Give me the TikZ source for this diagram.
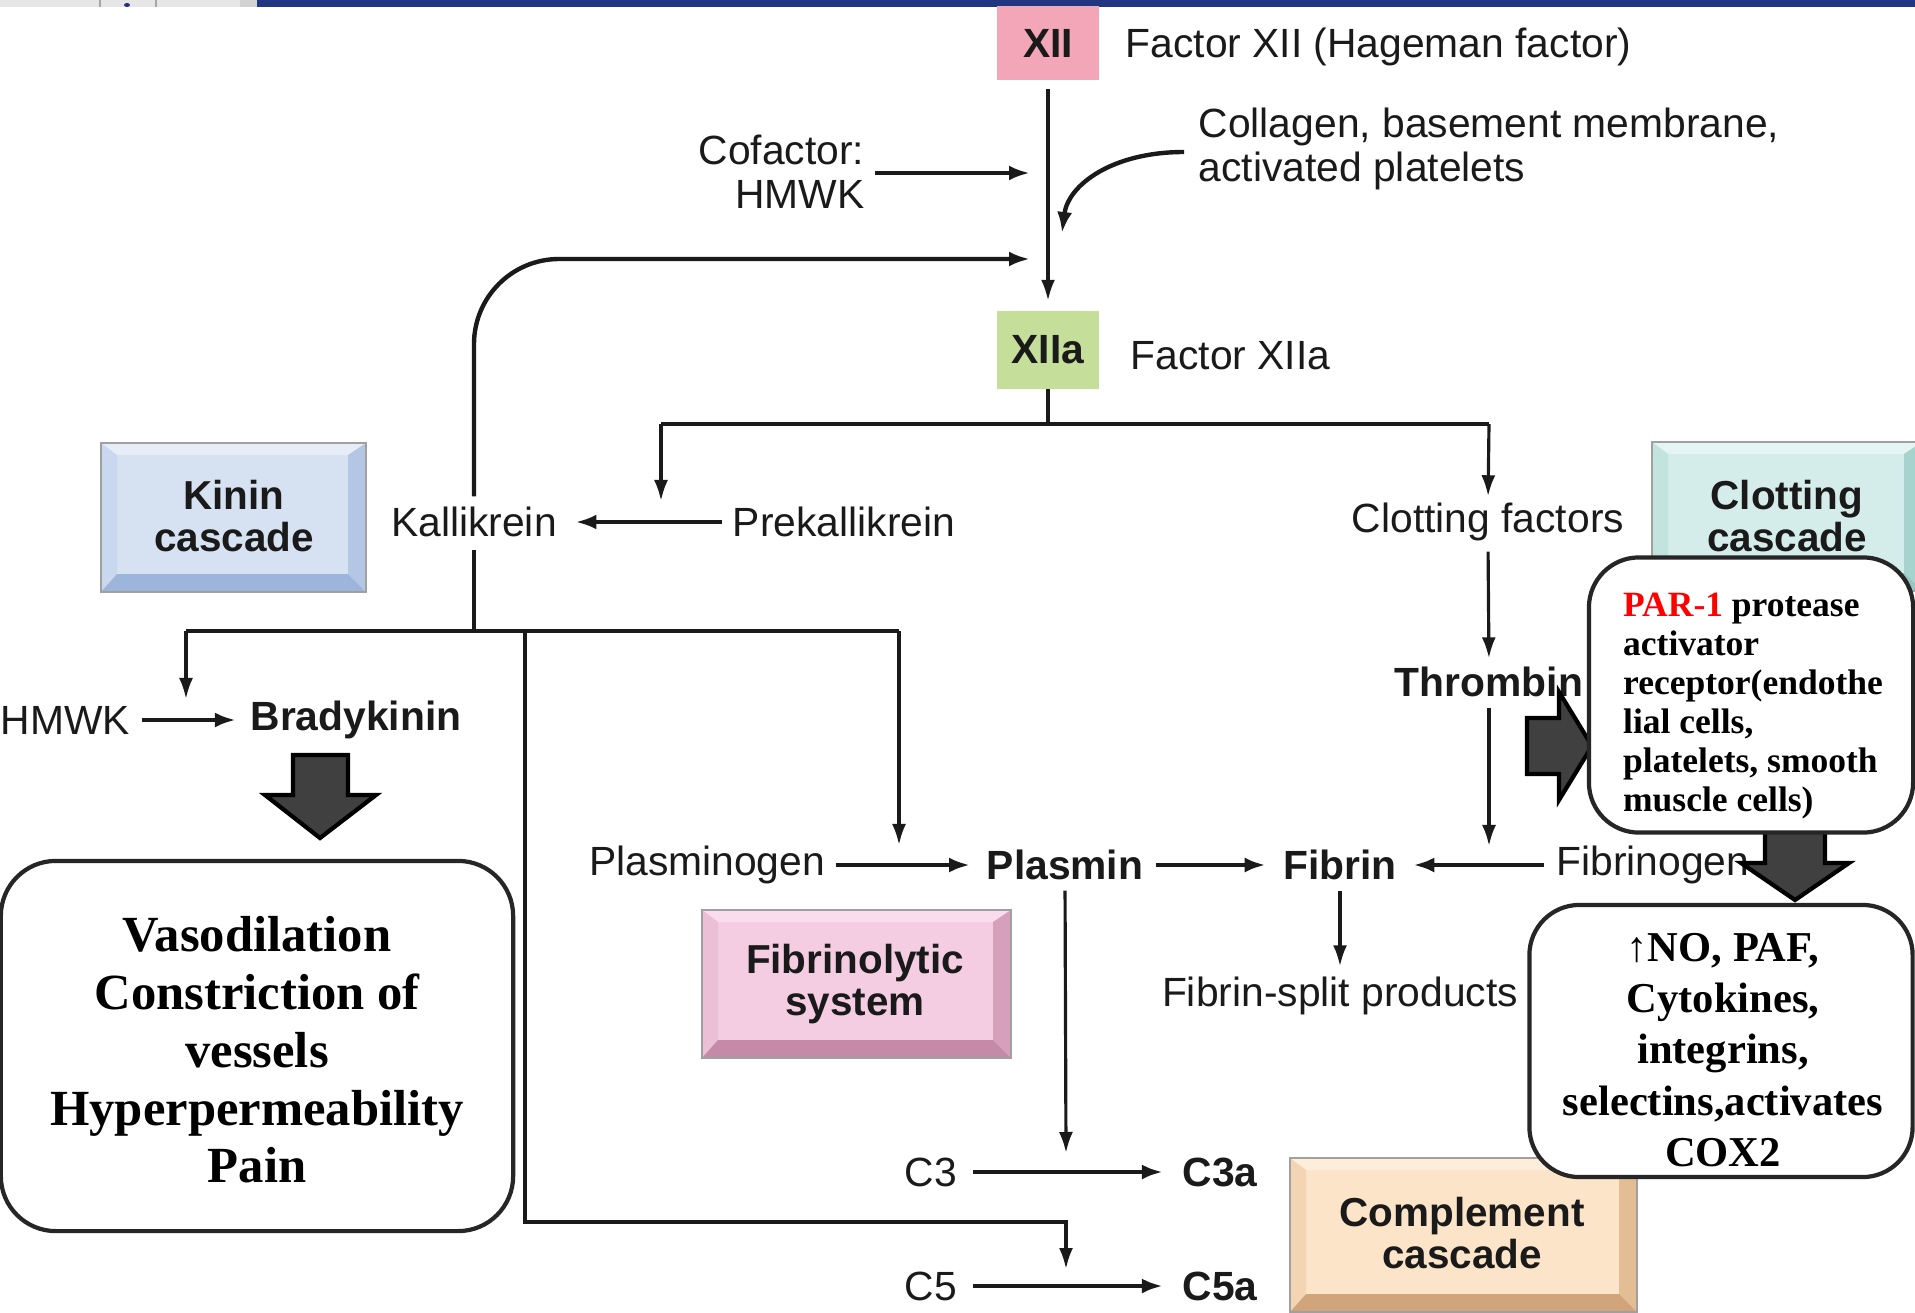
\documentclass[tikz,border=0pt]{standalone}
\usepackage{fontspec}
\setmainfont{Liberation Sans}
\newfontfamily\tnr{Liberation Serif}
\usetikzlibrary{arrows.meta,calc}
\definecolor{txt}{HTML}{1A1A1A}
\definecolor{topgray}{HTML}{E6E6E6}
\definecolor{topblue}{HTML}{213580}
\definecolor{xiipink}{HTML}{F3A6B8}
\definecolor{xiiagreen}{HTML}{C5DF9A}
\definecolor{blockfill}{HTML}{404040}
\definecolor{boxline}{HTML}{262626}
\definecolor{boxedge}{HTML}{A0A0A0}
% kinin
\definecolor{kface}{HTML}{D6E2F2}\definecolor{ktop}{HTML}{E6EDF8}\definecolor{kleft}{HTML}{C9D8EE}\definecolor{kright}{HTML}{B3C7E5}\definecolor{kbot}{HTML}{9DB5DB}
% clotting
\definecolor{cface}{HTML}{D4EDEA}\definecolor{ctop}{HTML}{E4F5F3}\definecolor{cleft}{HTML}{C3E3DF}\definecolor{cright}{HTML}{A6D3CD}\definecolor{cbot}{HTML}{96C6C0}
% fibrinolytic
\definecolor{fface}{HTML}{F5CDE2}\definecolor{ftop}{HTML}{F9DDEC}\definecolor{fleft}{HTML}{EBBFD6}\definecolor{fright}{HTML}{D6A0BC}\definecolor{fbot}{HTML}{C48AA8}
% complement
\definecolor{mface}{HTML}{FCE4C8}\definecolor{mtop}{HTML}{FDEEDC}\definecolor{mleft}{HTML}{F3D5B3}\definecolor{mright}{HTML}{E3BD93}\definecolor{mbot}{HTML}{D1A57B}
\newcommand\lbl{\fontsize{11.6}{12.5}\selectfont}
\newcommand\bxl{\fontsize{11.5}{12.2}\selectfont}
\newcommand\parf{\tnr\fontsize{10.1}{11.05}\selectfont\bfseries}
\newcommand\vasf{\tnr\fontsize{14.4}{16.4}\selectfont\bfseries}
\newcommand\nof{\tnr\fontsize{12.1}{14.6}\selectfont\bfseries}
\newcommand\bevbox[9]{%
  \fill[#5] (#1,#2) rectangle (#3,#4);
  \fill[#6] (#1,#2) -- (#3,#2) -- (#3-18,#2+12) -- (#1+16,#2+12) -- cycle;
  \fill[#7] (#1,#2) -- (#1+16,#2+12) -- (#1+16,#4-18) -- (#1,#4) -- cycle;
  \fill[#8] (#3,#2) -- (#3-18,#2+12) -- (#3-18,#4-18) -- (#3,#4) -- cycle;
  \fill[#9] (#1,#4) -- (#1+16,#4-18) -- (#3-18,#4-18) -- (#3,#4) -- cycle;
  \draw[boxedge, line width=0.6pt] (#1,#2) rectangle (#3,#4);
}
\begin{document}
\begin{tikzpicture}[x=0.01cm,y=-0.01cm,
  lab/.style={font=\lbl, text=txt, inner sep=0pt},
  blab/.style={font=\lbl\bfseries, text=txt, inner sep=0pt},
  boxlab/.style={font=\bxl\bfseries, text=txt, align=center, inner sep=0pt},
  arr/.style={draw=txt, line width=0.9pt, -{Latex[length=0.21cm,width=0.14cm]}},
  harr/.style={draw=txt, line width=1.25pt, -{Latex[length=0.21cm,width=0.15cm]}},
  ln/.style={draw=txt, line width=1.05pt},
  rbox/.style={draw=boxline, line width=1.2pt, fill=white},
  barrow/.style={fill=blockfill, draw=black, line width=1.2pt, line join=miter},
]
\useasboundingbox (0,0) rectangle (1915,1312);
\fill[white] (0,0) rectangle (1915,1312);
% top strip
\fill[topgray] (0,0) rectangle (257,7);
\fill[gray!35] (240,0) rectangle (257,7);
\fill[topblue] (257,0) rectangle (1915,7);
\draw[gray!70, line width=0.4pt] (100,0) -- (100,7) (156,0) -- (156,7);
\fill[topblue] (127,5) ellipse (3 and 2);

% cascade boxes
\bevbox{101}{443}{366}{592}{kface}{ktop}{kleft}{kright}{kbot}
\node[boxlab] (kinin) at (234,516) {Kinin\\cascade};
\bevbox{1652}{442}{1922}{591}{cface}{ctop}{cleft}{cright}{cbot}
\node[boxlab] (clot) at (1787,516) {Clotting\\cascade};
\bevbox{702}{910}{1011}{1058}{fface}{ftop}{fleft}{fright}{fbot}
\node[boxlab] (fibsys) at (855,984) {Fibrinolytic\\system};
\bevbox{1290}{1158}{1637}{1312}{mface}{mtop}{mleft}{mright}{mbot}
\node[boxlab] (compl) at (1462,1233) {Complement\\cascade};

% factor XII
\node[fill=xiipink, minimum width=1.02cm, minimum height=0.73cm, inner sep=0pt, font=\lbl\bfseries, text=txt] (xii) at (1048,43) {XII};
\node[lab, anchor=west] (fxii) at (1125,47) {Factor XII (Hageman factor)};
\node[fill=xiiagreen, minimum width=1.02cm, minimum height=0.77cm, inner sep=0pt, font=\lbl\bfseries, text=txt] (xiia) at (1048,350) {XIIa};
\node[lab, anchor=west] (fxiia) at (1130,356) {Factor XIIa};
\node[lab, align=right, anchor=east] (cof) at (865,172) {Cofactor:\\HMWK};
\node[lab, align=left, anchor=west] (coll) at (1198,149) {Collagen, basement membrane,\\activated platelets};

% labels
\node[lab] (kall) at (474,522) {Kallikrein};
\node[lab] (prek) at (844,522) {Prekallikrein};
\node[lab] (clotf) at (1488,522) {Clotting factors};
\node[lab, anchor=west] (hmwk) at (0,720) {HMWK};
\node[blab] (brady) at (356,720) {Bradykinin};
\node[blab] (thromb) at (1489,682) {Thrombin};
\node[lab] (plg) at (707,865) {Plasminogen};
\node[blab] (plasmin) at (1065,865) {Plasmin};
\node[blab] (fibrin) at (1340,865) {Fibrin};
\node[lab] (fibrinogen) at (1653,865) {Fibrinogen};
\node[lab] (fsp) at (1340,996) {Fibrin-split products};
\node[lab] (c3) at (931,1172) {C3};
\node[blab] (c3a) at (1220,1172) {C3a};
\node[lab] (c5) at (931,1286) {C5};
\node[blab] (c5a) at (1220,1286) {C5a};

% junction coordinates
\coordinate (jxii) at (1048,424);
\coordinate (jk) at (474,631);
\coordinate (cofend) at (1030,173);
\coordinate (loopend) at (1030,259);

% connectors top
\draw[arr, shorten <=0.09cm, shorten >=0.1cm] (xii.south) -- (xiia.north);
\draw[harr, shorten <=0.1cm] (cof.east |- cofend) -- (cofend);
\draw[harr] ($(coll.west)+(-14,3)$) .. controls (1112,152) and (1068,185) .. (1062,233);
\draw[harr, rounded corners=0.85cm, shorten <=0.1cm] (kall.north) -- (474,259) -- (loopend);
\draw[ln] (xiia.south) -- (jxii);
\draw[ln] (661,424) -- (1489,424);
\draw[arr] (661,424) -- (661,501);
\draw[arr, shorten >=0.06cm] (1489,424) -- (clotf.north);
\draw[harr, shorten <=0.1cm, shorten >=0.18cm] (prek.west) -- (kall.east);

% kallikrein tree
\draw[ln, shorten <=0.12cm] (kall.south) -- (jk);
\draw[ln] (186,631) -- (899,631);
\draw[arr] (186,631) -- (186,699);
\draw[arr] (899,631) -- (899,845);
\draw[arr] (525,631) -- (525,1222) -- (1066,1222) -- (1066,1269);
\draw[harr, shorten <=0.11cm, shorten >=0.14cm] (hmwk.east) -- (brady.west);

% clotting path
\draw[arr, shorten <=0.1cm, shorten >=0.08cm] (clotf.south) -- (thromb.north);
\draw[arr, shorten <=0.1cm] (thromb.south) -- (1489,846);
\draw[harr, shorten <=0.1cm, shorten >=0.16cm] (plg.east) -- (plasmin.west);
\draw[harr, shorten <=0.12cm, shorten >=0.17cm] (plasmin.east) -- (fibrin.west);
\draw[harr, shorten <=0.12cm, shorten >=0.16cm] (fibrinogen.west) -- (fibrin.east);
\draw[arr, shorten <=0.1cm, shorten >=0.1cm] (fibrin.south) -- (fsp.north);
\draw[arr, shorten <=0.1cm] (plasmin.south) -- (1066,1153);
\draw[harr, shorten <=0.15cm, shorten >=0.19cm] (c3.east) -- (c3a.west);
\draw[harr, shorten <=0.15cm, shorten >=0.19cm] (c5.east) -- (c5a.west);

% block arrows
\filldraw[barrow] (293,755) -- (348,755) -- (348,795) -- (376,795) -- (320,838) -- (265,795) -- (293,795) -- cycle;
\filldraw[barrow] (1527,718) -- (1559,718) -- (1559,692) -- (1592,746) -- (1559,800) -- (1559,774) -- (1527,774) -- cycle;
\filldraw[barrow] (1765,820) -- (1825,820) -- (1825,863) -- (1849,863) -- (1795,900) -- (1741,863) -- (1765,863) -- cycle;

% rounded text boxes
\node[rbox, rounded corners=0.55cm, minimum width=5.12cm, minimum height=3.7cm] (vaso) at (257,1046) {};
\node[align=center, font=\vasf, text=black, inner sep=0pt] (vasotext) at (257,1050)
  {Vasodilation\\Constriction of\\vessels\\Hyperpermeability\\Pain};
\node[rbox, rounded corners=0.5cm, minimum width=3.24cm, minimum height=2.75cm] (par) at (1751,695) {};
\node[align=left, font=\parf, text=black, inner sep=0pt] (partext) at (1753,706)
  {\textcolor{red}{PAR-1} protease\\activator\\receptor(endothe\\lial cells,\\platelets, smooth\\muscle cells)};
\node[rbox, rounded corners=0.5cm, minimum width=3.83cm, minimum height=2.72cm] (no) at (1721,1041) {};
\node[align=center, font=\nof, text=black, inner sep=0pt] (notext) at (1723,1050)
  {↑NO, PAF,\\Cytokines,\\integrins,\\selectins,activates\\COX2};
\end{tikzpicture}
\end{document}
